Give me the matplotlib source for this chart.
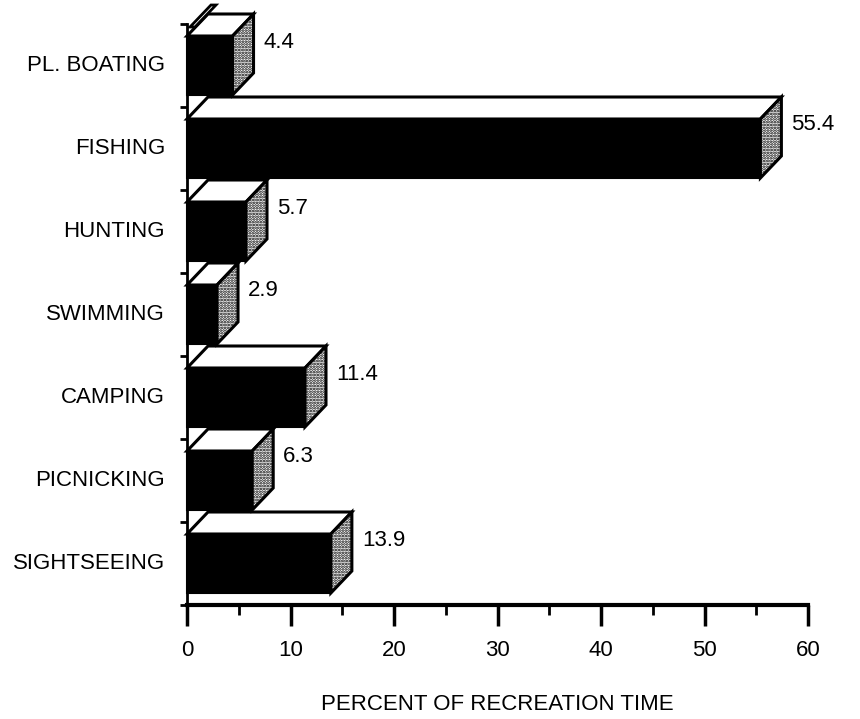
import numpy as np
import matplotlib
matplotlib.use("Agg")
import matplotlib.pyplot as plt
from matplotlib.patches import Polygon, Rectangle

plt.rcParams['font.family'] = ['Liberation Sans', 'DejaVu Sans']
plt.rcParams['hatch.linewidth'] = 1.3

categories = ["PL. BOATING", "FISHING", "HUNTING", "SWIMMING",
              "CAMPING", "PICNICKING", "SIGHTSEEING"]
values = [4.4, 55.4, 5.7, 2.9, 11.4, 6.3, 13.9]
value_labels = ["4.4", "55.4", "5.7", "2.9", "11.4", "6.3", "13.9"]
x_ticks = [0, 10, 20, 30, 40, 50, 60]
x_label = "PERCENT OF RECREATION TIME"

W, H = 860, 719
fig = plt.figure(figsize=(W / 100, H / 100), dpi=100)
ax_l, ax_r, ax_b, ax_t = 187, 808, 605, 24
ax = fig.add_axes([ax_l / W, (H - ax_b) / H, (ax_r - ax_l) / W, (ax_b - ax_t) / H])

n = len(categories)
ax.set_xlim(0, 60)
ax.set_ylim(-0.5, n - 0.5)

# pixel -> data scales
xpp = 60 / (ax_r - ax_l)
ypp = n / (ax_b - ax_t)
dx, dy = 21 * xpp, 22 * ypp
h = 59 * ypp
gap = 12 * ypp

pos = np.arange(n)[::-1]
for p, v, lab in zip(pos, values, value_labels):
    ftop = p + 0.5 - gap
    fbot = ftop - h
    ax.add_patch(Rectangle((0, fbot), v, h, facecolor='black',
                           edgecolor='black', lw=1.5, clip_on=False, zorder=3))
    top = [(0, ftop), (v, ftop), (v + dx, ftop + dy), (dx, ftop + dy)]
    ax.add_patch(Polygon(top, closed=True, facecolor='white', edgecolor='black',
                         lw=2.2, clip_on=False, zorder=3))
    side = [(v, fbot), (v + dx, fbot + dy), (v + dx, ftop + dy), (v, ftop)]
    ax.add_patch(Polygon(side, closed=True, facecolor='white', edgecolor='black',
                         hatch='......', lw=0, clip_on=False, zorder=3))
    ax.add_patch(Polygon(side, closed=True, fill=False, edgecolor='black',
                         lw=2.2, clip_on=False, zorder=4))
    ax.text(v + dx + 10 * xpp, ftop - 6 * ypp, lab, fontsize=16,
            ha='left', va='center', zorder=5)

# thin wall edge at the top of the axis
bt = n - 0.5 - 3 * ypp
wall = [(3 * xpp, bt), (dx + 3 * xpp, bt + dy),
        (dx + 8 * xpp, bt + dy), (8 * xpp, bt)]
ax.add_patch(Polygon(wall, closed=True, facecolor='white', edgecolor='black',
                     lw=2, clip_on=False, zorder=4))

for sp in ['top', 'right']:
    ax.spines[sp].set_visible(False)
ax.spines['left'].set_linewidth(2)
ax.spines['bottom'].set_linewidth(3)

ax.set_yticks(np.arange(n + 1) - 0.5)
ax.set_yticklabels([])
ax.tick_params(axis='y', length=5, width=2, direction='out')
for p, c in zip(pos, categories):
    ax.text(-22 * xpp, p, c, fontsize=16, ha='right', va='center')

ax.set_xticks(x_ticks)
ax.set_xticks(np.arange(5, 60, 10), minor=True)
ax.tick_params(axis='x', which='major', length=15, width=2.5, labelsize=16, pad=10)
ax.tick_params(axis='x', which='minor', length=7, width=2)

fig.text(497 / W, 1 - 705 / H, x_label, fontsize=16, ha='center', va='center')

fig.savefig("out.png", dpi=100)
